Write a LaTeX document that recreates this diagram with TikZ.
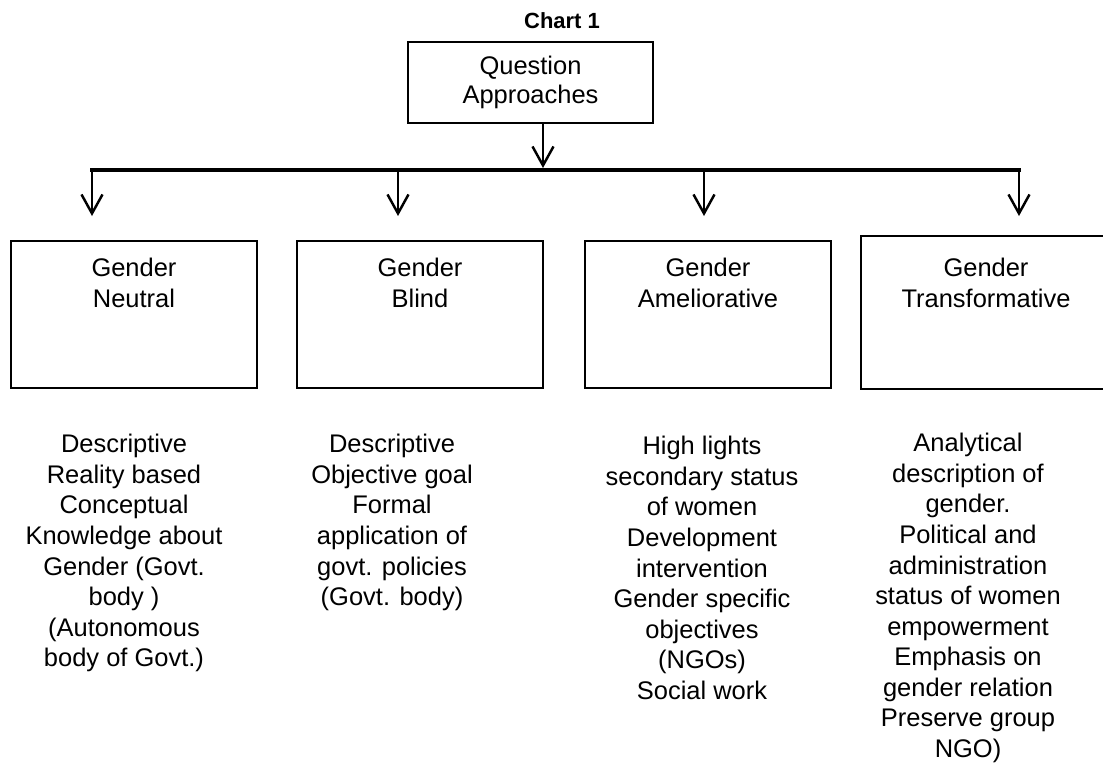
\documentclass[tikz,border=0pt]{standalone}
\usepackage{fontspec}
\setmainfont{Liberation Sans}
\usetikzlibrary{
    arrows.meta,  % For arrow tips
    positioning   % For label positioning
}

\begin{document}
\begin{tikzpicture}[
    x=0.02cm, y=-0.02cm, % One unit is one pixel of the sheet
    >={Straight Barb[length=3.8mm, width=4.2mm]}, % Open V arrow tips
    box/.style={draw, line width=1pt, inner sep=0pt,
        minimum width=4.92cm, minimum height=2.94cm}, % Style for the four boxes
    topbox/.style={draw, line width=1pt, inner sep=0pt,
        minimum width=4.9cm, minimum height=1.62cm}, % Style for the top box
    boxtext/.style={inner sep=0pt, align=center,
        font=\fontsize{14.5}{17.4}\selectfont}, % Text inside the boxes
    desc/.style={inner sep=0pt, align=center, anchor=north,
        font=\fontsize{14.5}{17.4}\selectfont}, % Text under the boxes
    bar/.style={line width=2pt, line cap=rect}, % Style for the branch bar
    arr/.style={->, line width=1.4pt} % Style for the arrows
]

    % Fix the size of the sheet
    \useasboundingbox (0,0) rectangle (1103,764);

    % Title and top box
    \node[font=\bfseries\fontsize{12.5}{14}\selectfont] (chart) at (562,21) {Chart 1};
    \node[topbox] (qa) at (530.5,82.5) {};
    \node[boxtext, font=\fontsize{14.5}{16}\selectfont, anchor=north,
        below=0.3cm of qa.north] (qaT) {Question\\Approaches};

    % Branch points on the bar
    \coordinate (hub) at (543,168);
    \coordinate (a1) at (92,170);
    \coordinate (a2) at (398,170);
    \coordinate (a3) at (704,170);
    \coordinate (a4) at (1019,170);

    % Arrow tips above the boxes
    \coordinate (t1) at (92,216);
    \coordinate (t2) at (398,216);
    \coordinate (t3) at (704,216);
    \coordinate (t4) at (1019,216);

    % The four boxes (the last one is cut by the sheet edge, so no right side)
    \node[box] (neutral) at (134,314.5) {};
    \node[box] (blind) at (420,314.5) {};
    \node[box] (amel) at (708,314.5) {};
    \node[box, draw=none, minimum width=4.82cm, minimum height=3.02cm] (trans) at (982.5,312.5) {};
    \draw[line width=1pt] (trans.north east) -- (trans.north west)
        -- (trans.south west) -- (trans.south east);

    % Box titles
    \node[boxtext, anchor=north, below=0.35cm of neutral.north] (neutralT) {Gender\\Neutral};
    \node[boxtext, anchor=north, below=0.35cm of blind.north] (blindT) {Gender\\Blind};
    \node[boxtext, anchor=north, below=0.35cm of amel.north] (amelT) {Gender\\Ameliorative};
    \node[boxtext, anchor=north] (transT) at (986,258) {Gender\\Transformative};

    % Connectors
    \draw[arr] (qa.south -| hub) -- (hub);
    \draw[bar] (a1) -- (a4);
    \draw[arr] (a1) -- (t1);
    \draw[arr] (a2) -- (t2);
    \draw[arr] (a3) -- (t3);
    \draw[arr] (a4) -- (t4);

    % Descriptions
    \node[desc] (neutralD) at (124,434) {Descriptive\\Reality based\\Conceptual\\Knowledge about\\Gender (Govt.\\body )\\(Autonomous\\body of Govt.)};
    \node[desc] (blindD) at (392,434) {Descriptive\\Objective goal\\Formal\\application of\\govt. policies\\(Govt. body)};
    \node[desc] (amelD) at (702,436) {High lights\\secondary status\\of women\\Development\\intervention\\Gender specific\\objectives\\(NGOs)\\Social work};
    \node[desc] (transD) at (968,433) {Analytical\\description of\\gender.\\Political and\\administration\\status of women\\empowerment\\Emphasis on\\gender relation\\Preserve group\\NGO)};

\end{tikzpicture}
\end{document}
